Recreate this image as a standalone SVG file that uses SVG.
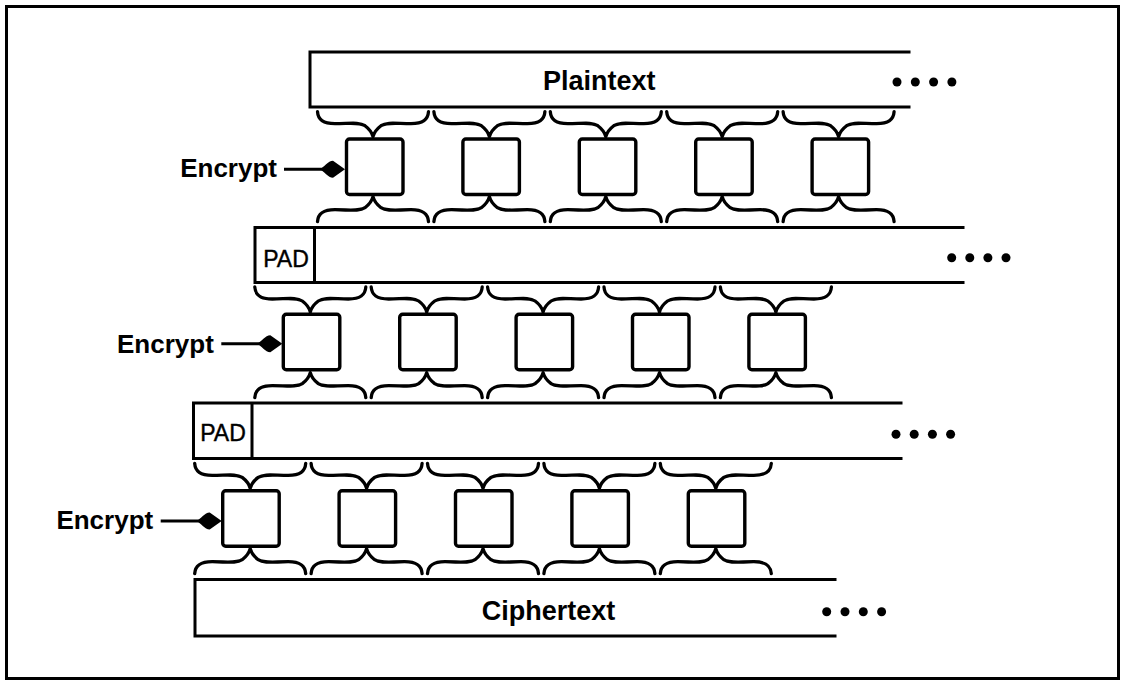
<svg xmlns="http://www.w3.org/2000/svg" xmlns:xlink="http://www.w3.org/1999/xlink" width="1126" height="686" viewBox="0 0 1126 686">
<style>
.ln{fill:none;stroke:#000;stroke-width:3;stroke-linecap:square}
.box{fill:#fff;stroke:#000;stroke-width:3.4}
.br{fill:none;stroke:#000;stroke-width:3.3;stroke-linecap:round;stroke-linejoin:round}
.lbl{font-family:"Liberation Sans",Arial,sans-serif;font-weight:bold;fill:#000}
.pad{font-family:"Liberation Sans",Arial,sans-serif;font-size:23px;fill:#000;stroke:#000;stroke-width:0.4}
.dot{fill:#000}
</style>
<defs>
<path id="bt" class="br" d="M -55.5,0 C -55,8 -50,12 -38,12 C -24,12 -14,10 -8,14 C -4,17 -1,21 0,25 C 1,21 4,17 8,14 C 14,10 24,12 38,12 C 50,12 55,8 55.5,0"/>
<path id="bb" class="br" d="M -55.5,25 C -55,17 -50,13 -38,13 C -24,13 -14,15 -8,11 C -4,8 -1,4 0,0 C 1,4 4,8 8,11 C 14,15 24,13 38,13 C 50,13 55,17 55.5,25"/>
<g id="arr">
<line x1="-61" y1="0" x2="-20" y2="0" stroke="#000" stroke-width="3"/>
<path d="M -25,0 C -21,-2 -17,-8.5 -12,-8.5 L 0,0 L -12,8.5 C -17,8.5 -21,2 -25,0 Z" fill="#000"/>
</g>
</defs>
<rect x="6.5" y="6.5" width="1112" height="672" fill="#fff" stroke="#000" stroke-width="3"/>

<g id="plaintext">
<path class="ln" d="M 909,52 L 310,52 L 310,107 L 909,107"/>
<text class="lbl" x="543" y="90" font-size="27">Plaintext</text>
<circle class="dot" cx="897" cy="82" r="4.5"/><circle class="dot" cx="915.3" cy="82" r="4.5"/><circle class="dot" cx="933.6" cy="82" r="4.5"/><circle class="dot" cx="951.9" cy="82" r="4.5"/>
</g>

<g id="pad1">
<path class="ln" d="M 963,227.5 L 255,227.5 L 255,282.5 L 963,282.5 M 314.5,227.5 L 314.5,282.5"/>
<text class="pad" x="286" y="266.5" text-anchor="middle">PAD</text>
<circle class="dot" cx="951.7" cy="257.7" r="4.5"/><circle class="dot" cx="969.8" cy="257.7" r="4.5"/><circle class="dot" cx="987.9" cy="257.7" r="4.5"/><circle class="dot" cx="1006" cy="257.7" r="4.5"/>
</g>

<g id="pad2">
<path class="ln" d="M 901,403 L 193.5,403 L 193.5,458.5 L 901,458.5 M 252,403 L 252,458.5"/>
<text class="pad" x="223" y="441" text-anchor="middle">PAD</text>
<circle class="dot" cx="896" cy="434.3" r="4.5"/><circle class="dot" cx="914.2" cy="434.3" r="4.5"/><circle class="dot" cx="932.4" cy="434.3" r="4.5"/><circle class="dot" cx="950.6" cy="434.3" r="4.5"/>
</g>

<g id="ciphertext">
<path class="ln" d="M 835,579.5 L 195,579.5 L 195,636 L 835,636"/>
<text class="lbl" x="481.7" y="620" font-size="27">Ciphertext</text>
<circle class="dot" cx="826.7" cy="611.7" r="4.5"/><circle class="dot" cx="845" cy="611.7" r="4.5"/><circle class="dot" cx="863.3" cy="611.7" r="4.5"/><circle class="dot" cx="881.6" cy="611.7" r="4.5"/>
</g>

<g id="row1" transform="translate(346.5,139)">
<text class="lbl" x="-69.5" y="37.7" font-size="26" text-anchor="end">Encrypt</text>
<rect class="box" x="0" y="0" width="56.5" height="55.5" rx="3"/>
<rect class="box" x="116.4" y="0" width="56.5" height="55.5" rx="3"/>
<rect class="box" x="232.8" y="0" width="56.5" height="55.5" rx="3"/>
<rect class="box" x="349.2" y="0" width="56.5" height="55.5" rx="3"/>
<rect class="box" x="465.6" y="0" width="56.5" height="55.5" rx="3"/>
</g>
<g id="row2" transform="translate(283.3,314.3)">
<text class="lbl" x="-69.5" y="39" font-size="26" text-anchor="end">Encrypt</text>
<rect class="box" x="0" y="0" width="56.5" height="55.5" rx="3"/>
<rect class="box" x="116.4" y="0" width="56.5" height="55.5" rx="3"/>
<rect class="box" x="232.8" y="0" width="56.5" height="55.5" rx="3"/>
<rect class="box" x="349.2" y="0" width="56.5" height="55.5" rx="3"/>
<rect class="box" x="465.6" y="0" width="56.5" height="55.5" rx="3"/>
</g>
<g id="row3" transform="translate(222.7,490.7)">
<text class="lbl" x="-69.5" y="38.5" font-size="26" text-anchor="end">Encrypt</text>
<rect class="box" x="0" y="0" width="56.5" height="55.5" rx="3"/>
<rect class="box" x="116.4" y="0" width="56.5" height="55.5" rx="3"/>
<rect class="box" x="232.8" y="0" width="56.5" height="55.5" rx="3"/>
<rect class="box" x="349.2" y="0" width="56.5" height="55.5" rx="3"/>
<rect class="box" x="465.6" y="0" width="56.5" height="55.5" rx="3"/>
</g>

<g id="connectors">
<g transform="translate(346.5,139)">
<use xlink:href="#arr" x="-1.5" y="30.3"/>
<use xlink:href="#bt" x="26.5" y="-27.3"/><use xlink:href="#bt" x="142.9" y="-27.3"/><use xlink:href="#bt" x="259.3" y="-27.3"/><use xlink:href="#bt" x="375.7" y="-27.3"/><use xlink:href="#bt" x="492.1" y="-27.3"/>
<use xlink:href="#bb" x="26.5" y="57.7"/><use xlink:href="#bb" x="142.9" y="57.7"/><use xlink:href="#bb" x="259.3" y="57.7"/><use xlink:href="#bb" x="375.7" y="57.7"/><use xlink:href="#bb" x="492.1" y="57.7"/>
</g>
<g transform="translate(283.3,314.3)">
<use xlink:href="#arr" x="-1" y="29.5"/>
<use xlink:href="#bt" x="27" y="-27.3"/><use xlink:href="#bt" x="143.4" y="-27.3"/><use xlink:href="#bt" x="259.8" y="-27.3"/><use xlink:href="#bt" x="376.2" y="-27.3"/><use xlink:href="#bt" x="492.6" y="-27.3"/>
<use xlink:href="#bb" x="27" y="58.3"/><use xlink:href="#bb" x="143.4" y="58.3"/><use xlink:href="#bb" x="259.8" y="58.3"/><use xlink:href="#bb" x="376.2" y="58.3"/><use xlink:href="#bb" x="492.6" y="58.3"/>
</g>
<g transform="translate(222.7,490.7)">
<use xlink:href="#arr" x="-1" y="30.3"/>
<use xlink:href="#bt" x="27.5" y="-27.3"/><use xlink:href="#bt" x="143.9" y="-27.3"/><use xlink:href="#bt" x="260.3" y="-27.3"/><use xlink:href="#bt" x="376.7" y="-27.3"/><use xlink:href="#bt" x="493.1" y="-27.3"/>
<use xlink:href="#bb" x="27.5" y="58"/><use xlink:href="#bb" x="143.9" y="58"/><use xlink:href="#bb" x="260.3" y="58"/><use xlink:href="#bb" x="376.7" y="58"/><use xlink:href="#bb" x="493.1" y="58"/>
</g>
</g>
</svg>
